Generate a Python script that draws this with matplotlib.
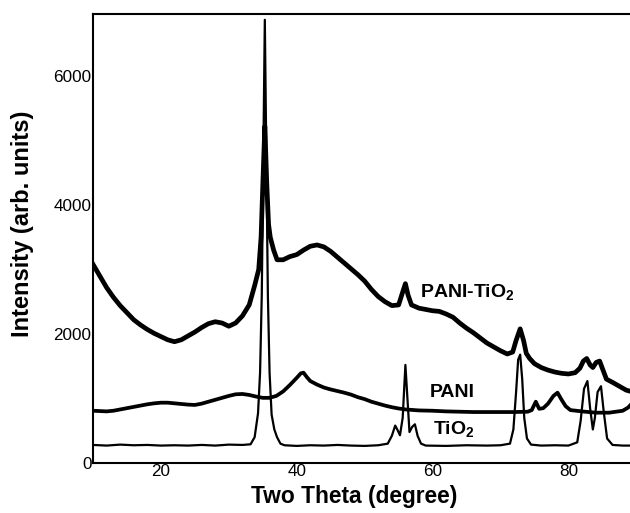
import matplotlib
matplotlib.use("Agg")
import matplotlib.pyplot as plt

plt.rcParams['font.family'] = ['Liberation Sans', 'DejaVu Sans']
plt.rcParams['mathtext.default'] = 'regular'

# ---- data ----
tio2_x = [10, 12, 14, 16, 18, 20, 22, 24, 26, 28, 30, 32, 33.2, 33.8, 34.3, 34.6, 34.85, 35.0, 35.3,
          35.6, 35.75, 36.0, 36.3, 36.7, 37.1, 37.6, 38.2, 40, 42, 44, 46, 48, 50, 52, 53.4, 54.0,
          54.5, 54.8, 55.2, 55.6, 56.0, 56.3, 56.6, 57.0, 57.4, 57.8, 58.3, 59, 62, 65, 68, 70,
          71.4, 71.9, 72.3, 72.6, 72.9, 73.2, 73.5, 73.9, 74.5, 76, 78, 80, 81.3, 81.8, 82.3,
          82.8, 83.2, 83.6, 83.9, 84.3, 84.8, 85.2, 85.7, 86.5, 88, 90]
tio2_y = [280, 270, 285, 275, 280, 270, 275, 270, 280, 270, 285, 280, 290, 400, 770, 1400, 2600, 4000, 6870,
          4000, 2600, 1400, 750, 520, 400, 300, 275, 265, 275, 270, 280, 270, 265, 275, 300, 420,
          580, 520, 430, 700, 1520, 1000, 480, 560, 600, 420, 300, 270, 265, 275, 270, 275,
          300, 520, 1100, 1600, 1680, 1300, 700, 380, 285, 270, 275, 270, 320, 650, 1150,
          1270, 850, 520, 700, 1100, 1190, 800, 380, 280, 270, 270]

pani_x = [10, 12, 13, 14, 15, 16, 17, 18, 19, 20, 21, 22, 23, 24, 25, 26, 27, 28, 29, 30, 31, 32,
          33, 34, 35, 36, 37, 38, 39, 40, 40.6, 41.0, 41.5, 42, 43, 44, 45, 46, 47, 48, 49, 50,
          51, 52, 53, 54, 55, 56, 58, 60, 62, 64, 66, 68, 70, 72, 74, 74.6, 75.2, 75.7, 76.3,
          77.0, 77.8, 78.4, 79.0, 79.6, 80.3, 82, 84, 86, 88, 88.8, 89.5, 90]
pani_y = [810, 800, 810, 830, 850, 870, 890, 910, 925, 935, 935, 925, 915, 905, 900, 920, 950, 980,
          1010, 1040, 1065, 1070, 1055, 1030, 1010, 1010, 1040, 1110, 1210, 1320, 1390, 1400, 1330,
          1270, 1215, 1170, 1140, 1115, 1090, 1060, 1020, 990, 950, 920, 890, 865, 845, 830, 815,
          810, 800, 795, 790, 790, 790, 790, 795, 820, 950, 840, 850, 920, 1040, 1090, 980, 880,
          820, 800, 780, 780, 810, 860, 940, 900]

comp_x = [10, 11, 12, 13, 14, 15, 16, 17, 18, 19, 20, 21, 22, 23, 24, 25, 26, 27, 28, 29, 30, 31,
          32, 33, 33.8, 34.4, 34.75, 35.0, 35.3, 35.6, 35.85, 36.1, 36.6, 37.1, 38, 39, 40, 41,
          42, 43, 44, 45, 46, 47, 48, 49, 50, 51, 52, 53, 54, 55, 55.6, 56.0, 56.4, 56.9, 58, 59,
          60, 61, 62, 63, 64, 65, 66, 67, 68, 69, 70, 71, 71.8, 72.3, 72.9, 73.4, 73.8, 74.3, 75,
          76, 77, 78, 79, 80, 81, 81.7, 82.2, 82.7, 83.2, 83.6, 84.1, 84.6, 85.1, 85.6, 86.5,
          87.5, 88.5, 89.5, 90]
comp_y = [3080, 2900, 2720, 2570, 2440, 2330, 2220, 2140, 2070, 2010, 1960, 1910, 1880, 1910, 1970,
          2030, 2100, 2160, 2190, 2170, 2120, 2170, 2280, 2450, 2750, 3000, 3500, 4300, 5220, 4300,
          3700, 3500, 3300, 3150, 3150, 3200, 3230, 3300, 3360, 3380, 3350, 3280, 3190, 3100, 3010,
          2920, 2820, 2690, 2580, 2500, 2440, 2450, 2650, 2780, 2600, 2450, 2400, 2380, 2360, 2350,
          2310, 2260, 2170, 2090, 2020, 1940, 1860, 1800, 1740, 1690, 1720, 1900, 2080, 1900, 1700,
          1620, 1540, 1480, 1440, 1410, 1390, 1380, 1400, 1470, 1580, 1620, 1520, 1480, 1560, 1580,
          1440, 1300, 1250, 1190, 1130, 1100, 1080]

x_ticks = [20, 40, 60, 80]
y_ticks = [0, 2000, 4000, 6000]

fig = plt.figure(figsize=(6.30, 5.13), dpi=100)
ax = fig.add_axes([93 / 630, 50 / 513, 1 - 93 / 630 + 0.01, (463 - 14) / 513])

ax.plot(comp_x, comp_y, color='black', lw=3.4, solid_joinstyle='round')
ax.plot(pani_x, pani_y, color='black', lw=2.7, solid_joinstyle='round')
ax.plot(tio2_x, tio2_y, color='black', lw=1.6, solid_joinstyle='round')

ax.set_xlim(10, 90)
ax.set_ylim(0, 6960)
ax.set_xticks(x_ticks)
ax.set_yticks(y_ticks)
ax.tick_params(axis='both', length=0, pad=1, labelsize=12.3)
for s in ['left', 'bottom', 'top']:
    ax.spines[s].set_linewidth(1.5)
ax.spines['right'].set_visible(False)

ax.set_xlabel('Two Theta (degree)', fontsize=16.4, fontweight='bold')
ax.set_ylabel('Intensity (arb. units)', fontsize=17, fontweight='bold')
ax.xaxis.set_label_coords(0.4804, -0.050)
ax.yaxis.set_label_coords(-0.108, 0.532)

ax.text(58.1, 2650, 'PANI-TiO$_2$', fontsize=14, fontweight='bold', va='center', ha='left')
ax.text(59.6, 1100, 'PANI', fontsize=14, fontweight='bold', va='center', ha='left')
ax.text(60.0, 520, 'TiO$_2$', fontsize=14, fontweight='bold', va='center', ha='left')

fig.savefig('out.png', dpi=100)
